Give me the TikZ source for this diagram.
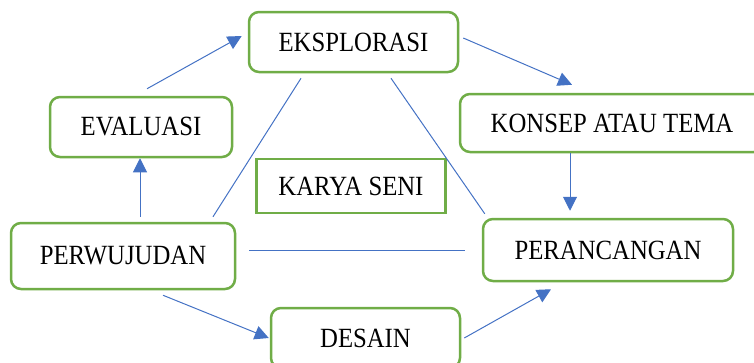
\documentclass[tikz,border=0pt]{standalone}
\usepackage{fontspec}
\setmainfont[FakeStretch=0.89]{Liberation Serif}
\usepackage{tikz}
\usetikzlibrary{arrows.meta,calc}
\definecolor{boxgreen}{HTML}{70AD47}
\definecolor{linkblue}{HTML}{4472C4}

\begin{document}
\begin{tikzpicture}[x=1pt,y=-1pt,
  stage/.style={draw=boxgreen,line width=2.5pt,rounded corners=10pt,fill=white,
    inner sep=0pt,font=\fontsize{27.8}{30}\selectfont},
  link/.style={draw=linkblue,line width=1pt},
  flow/.style={link,-{Triangle[length=14pt,width=14pt]}}]
\useasboundingbox (0,0) rectangle (754,362);
\node[stage,minimum width=209pt,minimum height=60pt] (eksplorasi) at (353.5,42) {EKSPLORASI};
\node[stage,minimum width=304pt,minimum height=58pt] (konsep) at (612,123) {KONSEP ATAU TEMA};
\node[stage,minimum width=182pt,minimum height=60pt] (evaluasi) at (141,127) {EVALUASI};
\node[stage,rounded corners=0pt,minimum width=189pt,minimum height=54pt] (karya) at (351,186) {KARYA SENI};
\node[stage,minimum width=224pt,minimum height=66pt] (perwujudan) at (123,256) {PERWUJUDAN};
\node[stage,minimum width=250pt,minimum height=62pt] (perancangan) at (608,250) {PERANCANGAN};
\node[stage,minimum width=189pt,minimum height=60pt] (desain) at (365.5,338) {DESAIN};
% arrows of the cycle
\draw[flow] ($(evaluasi.north)+(6,-7)$) -- ($(eksplorasi.west)+(-6,-6)$);
\draw[flow] ($(eksplorasi.east)+(4,-4)$) -- ($(konsep.north)+(-40,-8)$);
\draw[flow] ($(konsep.south)+(-42,0)$) -- ($(perancangan.north)+(-38,-7)$);
\draw[flow] ($(perwujudan.north)+(17,-5)$) -- ($(evaluasi.south)+(-1,0)$);
\draw[flow] ($(perwujudan.south)+(40,5)$) -- ($(desain.west)+(-1,0)$);
\draw[flow] ($(desain.east)+(3,0)$) -- ($(perancangan.south)+(-57,7)$);
% plain lines
\draw[link] ($(eksplorasi.south)+(-52.5,5)$) -- ($(perwujudan.north)+(90,-5)$);
\draw[link] ($(eksplorasi.south)+(37.5,5)$) -- ($(perancangan.north west)+(3,-4)$);
\draw[link] ($(perwujudan.east)+(13,-6)$) -- ($(perancangan.west)+(-17,0)$);
\end{tikzpicture}
\end{document}
